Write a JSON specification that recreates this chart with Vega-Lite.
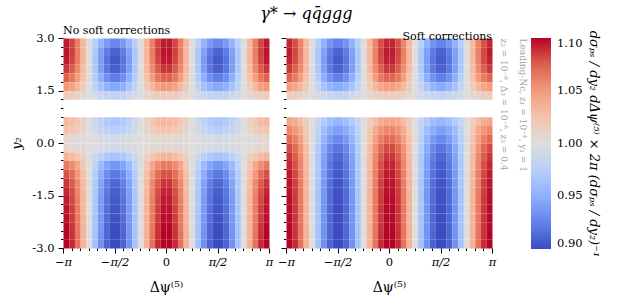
{"$schema":"https://vega.github.io/schema/vega-lite/v6.json","background":"white","padding":{"left":10,"top":6,"right":5,"bottom":5},"autosize":{"type":"pad"},"title":{"text":"γ* → qq̄ggg","font":"DejaVu Serif","fontSize":16,"fontStyle":"italic","fontWeight":"normal","anchor":"middle","dx":1,"offset":3,"color":"#000"},
"data":{"values":"p,x,y,v\na,-180,2.75,1.094\na,-170,2.75,1.082\na,-160,2.75,1.061\na,-150,2.75,1.032\na,-140,2.75,1\na,-130,2.75,0.975\na,-120,2.75,0.954\na,-110,2.75,0.938\na,-100,2.75,0.929\na,-90,2.75,0.929\na,-80,2.75,0.938\na,-70,2.75,0.954\na,-60,2.75,0.975\na,-50,2.75,1\na,-40,2.75,1.032\na,-30,2.75,1.061\na,-20,2.75,1.082\na,-10,2.75,1.094\na,0,2.75,1.094\na,10,2.75,1.082\na,20,2.75,1.061\na,30,2.75,1.032\na,40,2.75,1\na,50,2.75,0.975\na,60,2.75,0.954\na,70,2.75,0.938\na,80,2.75,0.929\na,90,2.75,0.929\na,100,2.75,0.938\na,110,2.75,0.954\na,120,2.75,0.975\na,130,2.75,1\na,140,2.75,1.032\na,150,2.75,1.061\na,160,2.75,1.082\na,170,2.75,1.094\na,-180,2.5,1.096\na,-170,2.5,1.084\na,-160,2.5,1.062\na,-150,2.5,1.033\na,-140,2.5,1\na,-130,2.5,0.969\na,-120,2.5,0.942\na,-110,2.5,0.922\na,-100,2.5,0.911\na,-90,2.5,0.911\na,-80,2.5,0.922\na,-70,2.5,0.942\na,-60,2.5,0.969\na,-50,2.5,1\na,-40,2.5,1.033\na,-30,2.5,1.062\na,-20,2.5,1.084\na,-10,2.5,1.096\na,0,2.5,1.096\na,10,2.5,1.084\na,20,2.5,1.062\na,30,2.5,1.033\na,40,2.5,1\na,50,2.5,0.969\na,60,2.5,0.942\na,70,2.5,0.922\na,80,2.5,0.911\na,90,2.5,0.911\na,100,2.5,0.922\na,110,2.5,0.942\na,120,2.5,0.969\na,130,2.5,1\na,140,2.5,1.033\na,150,2.5,1.062\na,160,2.5,1.084\na,170,2.5,1.096\na,-180,2.25,1.094\na,-170,2.25,1.082\na,-160,2.25,1.061\na,-150,2.25,1.032\na,-140,2.25,1\na,-130,2.25,0.968\na,-120,2.25,0.939\na,-110,2.25,0.918\na,-100,2.25,0.906\na,-90,2.25,0.906\na,-80,2.25,0.918\na,-70,2.25,0.939\na,-60,2.25,0.968\na,-50,2.25,1\na,-40,2.25,1.032\na,-30,2.25,1.061\na,-20,2.25,1.082\na,-10,2.25,1.094\na,0,2.25,1.094\na,10,2.25,1.082\na,20,2.25,1.061\na,30,2.25,1.032\na,40,2.25,1\na,50,2.25,0.968\na,60,2.25,0.939\na,70,2.25,0.918\na,80,2.25,0.906\na,90,2.25,0.906\na,100,2.25,0.918\na,110,2.25,0.939\na,120,2.25,0.968\na,130,2.25,1\na,140,2.25,1.032\na,150,2.25,1.061\na,160,2.25,1.082\na,170,2.25,1.094\na,-180,2,1.087\na,-170,2,1.076\na,-160,2,1.057\na,-150,2,1.030\na,-140,2,1\na,-130,2,0.969\na,-120,2,0.941\na,-110,2,0.920\na,-100,2,0.909\na,-90,2,0.909\na,-80,2,0.920\na,-70,2,0.941\na,-60,2,0.969\na,-50,2,1\na,-40,2,1.030\na,-30,2,1.057\na,-20,2,1.076\na,-10,2,1.087\na,0,2,1.087\na,10,2,1.076\na,20,2,1.057\na,30,2,1.030\na,40,2,1\na,50,2,0.969\na,60,2,0.941\na,70,2,0.920\na,80,2,0.909\na,90,2,0.909\na,100,2,0.920\na,110,2,0.941\na,120,2,0.969\na,130,2,1\na,140,2,1.030\na,150,2,1.057\na,160,2,1.076\na,170,2,1.087\na,-180,1.75,1.074\na,-170,1.75,1.065\na,-160,1.75,1.048\na,-150,1.75,1.026\na,-140,1.75,1\na,-130,1.75,0.973\na,-120,1.75,0.950\na,-110,1.75,0.932\na,-100,1.75,0.923\na,-90,1.75,0.923\na,-80,1.75,0.932\na,-70,1.75,0.950\na,-60,1.75,0.973\na,-50,1.75,1\na,-40,1.75,1.026\na,-30,1.75,1.048\na,-20,1.75,1.065\na,-10,1.75,1.074\na,0,1.75,1.074\na,10,1.75,1.065\na,20,1.75,1.048\na,30,1.75,1.026\na,40,1.75,1\na,50,1.75,0.973\na,60,1.75,0.950\na,70,1.75,0.932\na,80,1.75,0.923\na,90,1.75,0.923\na,100,1.75,0.932\na,110,1.75,0.950\na,120,1.75,0.973\na,130,1.75,1\na,140,1.75,1.026\na,150,1.75,1.048\na,160,1.75,1.065\na,170,1.75,1.074\na,-180,1.5,1.051\na,-170,1.5,1.045\na,-160,1.5,1.033\na,-150,1.5,1.018\na,-140,1.5,1\na,-130,1.5,0.981\na,-120,1.5,0.965\na,-110,1.5,0.952\na,-100,1.5,0.946\na,-90,1.5,0.946\na,-80,1.5,0.952\na,-70,1.5,0.965\na,-60,1.5,0.981\na,-50,1.5,1\na,-40,1.5,1.018\na,-30,1.5,1.033\na,-20,1.5,1.045\na,-10,1.5,1.051\na,0,1.5,1.051\na,10,1.5,1.045\na,20,1.5,1.033\na,30,1.5,1.018\na,40,1.5,1\na,50,1.5,0.981\na,60,1.5,0.965\na,70,1.5,0.952\na,80,1.5,0.946\na,90,1.5,0.946\na,100,1.5,0.952\na,110,1.5,0.965\na,120,1.5,0.981\na,130,1.5,1\na,140,1.5,1.018\na,150,1.5,1.033\na,160,1.5,1.045\na,170,1.5,1.051\na,-180,1.25,1.018\na,-170,1.25,1.016\na,-160,1.25,1.012\na,-150,1.25,1.006\na,-140,1.25,1\na,-130,1.25,0.993\na,-120,1.25,0.987\na,-110,1.25,0.983\na,-100,1.25,0.980\na,-90,1.25,0.980\na,-80,1.25,0.983\na,-70,1.25,0.987\na,-60,1.25,0.993\na,-50,1.25,1\na,-40,1.25,1.006\na,-30,1.25,1.012\na,-20,1.25,1.016\na,-10,1.25,1.018\na,0,1.25,1.018\na,10,1.25,1.016\na,20,1.25,1.012\na,30,1.25,1.006\na,40,1.25,1\na,50,1.25,0.993\na,60,1.25,0.987\na,70,1.25,0.983\na,80,1.25,0.980\na,90,1.25,0.980\na,100,1.25,0.983\na,110,1.25,0.987\na,120,1.25,0.993\na,130,1.25,1\na,140,1.25,1.006\na,150,1.25,1.012\na,160,1.25,1.016\na,170,1.25,1.018\na,-180,0.5,1.033\na,-170,0.5,1.029\na,-160,0.5,1.021\na,-150,0.5,1.011\na,-140,0.5,1\na,-130,0.5,0.989\na,-120,0.5,0.979\na,-110,0.5,0.971\na,-100,0.5,0.967\na,-90,0.5,0.967\na,-80,0.5,0.971\na,-70,0.5,0.979\na,-60,0.5,0.989\na,-50,0.5,1\na,-40,0.5,1.011\na,-30,0.5,1.021\na,-20,0.5,1.029\na,-10,0.5,1.033\na,0,0.5,1.033\na,10,0.5,1.029\na,20,0.5,1.021\na,30,0.5,1.011\na,40,0.5,1\na,50,0.5,0.989\na,60,0.5,0.979\na,70,0.5,0.971\na,80,0.5,0.967\na,90,0.5,0.967\na,100,0.5,0.971\na,110,0.5,0.979\na,120,0.5,0.989\na,130,0.5,1\na,140,0.5,1.011\na,150,0.5,1.021\na,160,0.5,1.029\na,170,0.5,1.033\na,-180,0.25,1.025\na,-170,0.25,1.022\na,-160,0.25,1.016\na,-150,0.25,1.009\na,-140,0.25,1\na,-130,0.25,0.991\na,-120,0.25,0.984\na,-110,0.25,0.978\na,-100,0.25,0.975\na,-90,0.25,0.975\na,-80,0.25,0.978\na,-70,0.25,0.984\na,-60,0.25,0.991\na,-50,0.25,1\na,-40,0.25,1.009\na,-30,0.25,1.016\na,-20,0.25,1.022\na,-10,0.25,1.025\na,0,0.25,1.025\na,10,0.25,1.022\na,20,0.25,1.016\na,30,0.25,1.009\na,40,0.25,1\na,50,0.25,0.991\na,60,0.25,0.984\na,70,0.25,0.978\na,80,0.25,0.975\na,90,0.25,0.975\na,100,0.25,0.978\na,110,0.25,0.984\na,120,0.25,0.991\na,130,0.25,1\na,140,0.25,1.009\na,150,0.25,1.016\na,160,0.25,1.022\na,170,0.25,1.025\na,-180,0,1.006\na,-170,0,1.005\na,-160,0,1.004\na,-150,0,1.002\na,-140,0,1\na,-130,0,0.998\na,-120,0,0.996\na,-110,0,0.995\na,-100,0,0.994\na,-90,0,0.994\na,-80,0,0.995\na,-70,0,0.996\na,-60,0,0.998\na,-50,0,1\na,-40,0,1.002\na,-30,0,1.004\na,-20,0,1.005\na,-10,0,1.006\na,0,0,1.006\na,10,0,1.005\na,20,0,1.004\na,30,0,1.002\na,40,0,1\na,50,0,0.998\na,60,0,0.996\na,70,0,0.995\na,80,0,0.994\na,90,0,0.994\na,100,0,0.995\na,110,0,0.996\na,120,0,0.998\na,130,0,1\na,140,0,1.002\na,150,0,1.004\na,160,0,1.005\na,170,0,1.006\na,-180,-0.25,1.008\na,-170,-0.25,1.007\na,-160,-0.25,1.005\na,-150,-0.25,1.003\na,-140,-0.25,1\na,-130,-0.25,0.997\na,-120,-0.25,0.995\na,-110,-0.25,0.993\na,-100,-0.25,0.992\na,-90,-0.25,0.992\na,-80,-0.25,0.993\na,-70,-0.25,0.995\na,-60,-0.25,0.997\na,-50,-0.25,1\na,-40,-0.25,1.003\na,-30,-0.25,1.005\na,-20,-0.25,1.007\na,-10,-0.25,1.008\na,0,-0.25,1.008\na,10,-0.25,1.007\na,20,-0.25,1.005\na,30,-0.25,1.003\na,40,-0.25,1\na,50,-0.25,0.997\na,60,-0.25,0.995\na,70,-0.25,0.993\na,80,-0.25,0.992\na,90,-0.25,0.992\na,100,-0.25,0.993\na,110,-0.25,0.995\na,120,-0.25,0.997\na,130,-0.25,1\na,140,-0.25,1.003\na,150,-0.25,1.005\na,160,-0.25,1.007\na,170,-0.25,1.008\na,-180,-0.5,1.034\na,-170,-0.5,1.030\na,-160,-0.5,1.023\na,-150,-0.5,1.012\na,-140,-0.5,1\na,-130,-0.5,0.988\na,-120,-0.5,0.977\na,-110,-0.5,0.970\na,-100,-0.5,0.966\na,-90,-0.5,0.966\na,-80,-0.5,0.970\na,-70,-0.5,0.977\na,-60,-0.5,0.988\na,-50,-0.5,1\na,-40,-0.5,1.012\na,-30,-0.5,1.023\na,-20,-0.5,1.030\na,-10,-0.5,1.034\na,0,-0.5,1.034\na,10,-0.5,1.030\na,20,-0.5,1.023\na,30,-0.5,1.012\na,40,-0.5,1\na,50,-0.5,0.988\na,60,-0.5,0.977\na,70,-0.5,0.970\na,80,-0.5,0.966\na,90,-0.5,0.966\na,100,-0.5,0.970\na,110,-0.5,0.977\na,120,-0.5,0.988\na,130,-0.5,1\na,140,-0.5,1.012\na,150,-0.5,1.023\na,160,-0.5,1.030\na,170,-0.5,1.034\na,-180,-0.75,1.064\na,-170,-0.75,1.056\na,-160,-0.75,1.042\na,-150,-0.75,1.022\na,-140,-0.75,1\na,-130,-0.75,0.978\na,-120,-0.75,0.958\na,-110,-0.75,0.944\na,-100,-0.75,0.936\na,-90,-0.75,0.936\na,-80,-0.75,0.944\na,-70,-0.75,0.958\na,-60,-0.75,0.978\na,-50,-0.75,1\na,-40,-0.75,1.022\na,-30,-0.75,1.042\na,-20,-0.75,1.056\na,-10,-0.75,1.064\na,0,-0.75,1.064\na,10,-0.75,1.056\na,20,-0.75,1.042\na,30,-0.75,1.022\na,40,-0.75,1\na,50,-0.75,0.978\na,60,-0.75,0.958\na,70,-0.75,0.944\na,80,-0.75,0.936\na,90,-0.75,0.936\na,100,-0.75,0.944\na,110,-0.75,0.958\na,120,-0.75,0.978\na,130,-0.75,1\na,140,-0.75,1.022\na,150,-0.75,1.042\na,160,-0.75,1.056\na,170,-0.75,1.064\na,-180,-1,1.079\na,-170,-1,1.069\na,-160,-1,1.051\na,-150,-1,1.027\na,-140,-1,1\na,-130,-1,0.973\na,-120,-1,0.949\na,-110,-1,0.931\na,-100,-1,0.921\na,-90,-1,0.921\na,-80,-1,0.931\na,-70,-1,0.949\na,-60,-1,0.973\na,-50,-1,1\na,-40,-1,1.027\na,-30,-1,1.051\na,-20,-1,1.069\na,-10,-1,1.079\na,0,-1,1.079\na,10,-1,1.069\na,20,-1,1.051\na,30,-1,1.027\na,40,-1,1\na,50,-1,0.973\na,60,-1,0.949\na,70,-1,0.931\na,80,-1,0.921\na,90,-1,0.921\na,100,-1,0.931\na,110,-1,0.949\na,120,-1,0.973\na,130,-1,1\na,140,-1,1.027\na,150,-1,1.051\na,160,-1,1.069\na,170,-1,1.079\na,-180,-1.25,1.087\na,-170,-1.25,1.076\na,-160,-1.25,1.057\na,-150,-1.25,1.030\na,-140,-1.25,1\na,-130,-1.25,0.970\na,-120,-1.25,0.943\na,-110,-1.25,0.924\na,-100,-1.25,0.913\na,-90,-1.25,0.913\na,-80,-1.25,0.924\na,-70,-1.25,0.943\na,-60,-1.25,0.970\na,-50,-1.25,1\na,-40,-1.25,1.030\na,-30,-1.25,1.057\na,-20,-1.25,1.076\na,-10,-1.25,1.087\na,0,-1.25,1.087\na,10,-1.25,1.076\na,20,-1.25,1.057\na,30,-1.25,1.030\na,40,-1.25,1\na,50,-1.25,0.970\na,60,-1.25,0.943\na,70,-1.25,0.924\na,80,-1.25,0.913\na,90,-1.25,0.913\na,100,-1.25,0.924\na,110,-1.25,0.943\na,120,-1.25,0.970\na,130,-1.25,1\na,140,-1.25,1.030\na,150,-1.25,1.057\na,160,-1.25,1.076\na,170,-1.25,1.087\na,-180,-1.5,1.091\na,-170,-1.5,1.080\na,-160,-1.5,1.059\na,-150,-1.5,1.031\na,-140,-1.5,1\na,-130,-1.5,0.969\na,-120,-1.5,0.941\na,-110,-1.5,0.920\na,-100,-1.5,0.909\na,-90,-1.5,0.909\na,-80,-1.5,0.920\na,-70,-1.5,0.941\na,-60,-1.5,0.969\na,-50,-1.5,1\na,-40,-1.5,1.031\na,-30,-1.5,1.059\na,-20,-1.5,1.080\na,-10,-1.5,1.091\na,0,-1.5,1.091\na,10,-1.5,1.080\na,20,-1.5,1.059\na,30,-1.5,1.031\na,40,-1.5,1\na,50,-1.5,0.969\na,60,-1.5,0.941\na,70,-1.5,0.920\na,80,-1.5,0.909\na,90,-1.5,0.909\na,100,-1.5,0.920\na,110,-1.5,0.941\na,120,-1.5,0.969\na,130,-1.5,1\na,140,-1.5,1.031\na,150,-1.5,1.059\na,160,-1.5,1.080\na,170,-1.5,1.091\na,-180,-1.75,1.094\na,-170,-1.75,1.082\na,-160,-1.75,1.061\na,-150,-1.75,1.032\na,-140,-1.75,1\na,-130,-1.75,0.968\na,-120,-1.75,0.939\na,-110,-1.75,0.918\na,-100,-1.75,0.906\na,-90,-1.75,0.906\na,-80,-1.75,0.918\na,-70,-1.75,0.939\na,-60,-1.75,0.968\na,-50,-1.75,1\na,-40,-1.75,1.032\na,-30,-1.75,1.061\na,-20,-1.75,1.082\na,-10,-1.75,1.094\na,0,-1.75,1.094\na,10,-1.75,1.082\na,20,-1.75,1.061\na,30,-1.75,1.032\na,40,-1.75,1\na,50,-1.75,0.968\na,60,-1.75,0.939\na,70,-1.75,0.918\na,80,-1.75,0.906\na,90,-1.75,0.906\na,100,-1.75,0.918\na,110,-1.75,0.939\na,120,-1.75,0.968\na,130,-1.75,1\na,140,-1.75,1.032\na,150,-1.75,1.061\na,160,-1.75,1.082\na,170,-1.75,1.094\na,-180,-2,1.096\na,-170,-2,1.084\na,-160,-2,1.062\na,-150,-2,1.033\na,-140,-2,1\na,-130,-2,0.967\na,-120,-2,0.938\na,-110,-2,0.916\na,-100,-2,0.904\na,-90,-2,0.904\na,-80,-2,0.916\na,-70,-2,0.938\na,-60,-2,0.967\na,-50,-2,1\na,-40,-2,1.033\na,-30,-2,1.062\na,-20,-2,1.084\na,-10,-2,1.096\na,0,-2,1.096\na,10,-2,1.084\na,20,-2,1.062\na,30,-2,1.033\na,40,-2,1\na,50,-2,0.967\na,60,-2,0.938\na,70,-2,0.916\na,80,-2,0.904\na,90,-2,0.904\na,100,-2,0.916\na,110,-2,0.938\na,120,-2,0.967\na,130,-2,1\na,140,-2,1.033\na,150,-2,1.062\na,160,-2,1.084\na,170,-2,1.096\na,-180,-2.25,1.097\na,-170,-2.25,1.085\na,-160,-2.25,1.063\na,-150,-2.25,1.034\na,-140,-2.25,1\na,-130,-2.25,0.966\na,-120,-2.25,0.937\na,-110,-2.25,0.915\na,-100,-2.25,0.903\na,-90,-2.25,0.903\na,-80,-2.25,0.915\na,-70,-2.25,0.937\na,-60,-2.25,0.966\na,-50,-2.25,1\na,-40,-2.25,1.034\na,-30,-2.25,1.063\na,-20,-2.25,1.085\na,-10,-2.25,1.097\na,0,-2.25,1.097\na,10,-2.25,1.085\na,20,-2.25,1.063\na,30,-2.25,1.034\na,40,-2.25,1\na,50,-2.25,0.966\na,60,-2.25,0.937\na,70,-2.25,0.915\na,80,-2.25,0.903\na,90,-2.25,0.903\na,100,-2.25,0.915\na,110,-2.25,0.937\na,120,-2.25,0.966\na,130,-2.25,1\na,140,-2.25,1.034\na,150,-2.25,1.063\na,160,-2.25,1.085\na,170,-2.25,1.097\na,-180,-2.5,1.099\na,-170,-2.5,1.087\na,-160,-2.5,1.064\na,-150,-2.5,1.034\na,-140,-2.5,1\na,-130,-2.5,0.966\na,-120,-2.5,0.936\na,-110,-2.5,0.913\na,-100,-2.5,0.901\na,-90,-2.5,0.901\na,-80,-2.5,0.913\na,-70,-2.5,0.936\na,-60,-2.5,0.966\na,-50,-2.5,1\na,-40,-2.5,1.034\na,-30,-2.5,1.064\na,-20,-2.5,1.087\na,-10,-2.5,1.099\na,0,-2.5,1.099\na,10,-2.5,1.087\na,20,-2.5,1.064\na,30,-2.5,1.034\na,40,-2.5,1\na,50,-2.5,0.966\na,60,-2.5,0.936\na,70,-2.5,0.913\na,80,-2.5,0.901\na,90,-2.5,0.901\na,100,-2.5,0.913\na,110,-2.5,0.936\na,120,-2.5,0.966\na,130,-2.5,1\na,140,-2.5,1.034\na,150,-2.5,1.064\na,160,-2.5,1.087\na,170,-2.5,1.099\na,-180,-2.75,1.100\na,-170,-2.75,1.088\na,-160,-2.75,1.066\na,-150,-2.75,1.035\na,-140,-2.75,1\na,-130,-2.75,0.965\na,-120,-2.75,0.934\na,-110,-2.75,0.912\na,-100,-2.75,0.900\na,-90,-2.75,0.900\na,-80,-2.75,0.912\na,-70,-2.75,0.934\na,-60,-2.75,0.965\na,-50,-2.75,1\na,-40,-2.75,1.035\na,-30,-2.75,1.066\na,-20,-2.75,1.088\na,-10,-2.75,1.100\na,0,-2.75,1.100\na,10,-2.75,1.088\na,20,-2.75,1.066\na,30,-2.75,1.035\na,40,-2.75,1\na,50,-2.75,0.965\na,60,-2.75,0.934\na,70,-2.75,0.912\na,80,-2.75,0.900\na,90,-2.75,0.900\na,100,-2.75,0.912\na,110,-2.75,0.934\na,120,-2.75,0.965\na,130,-2.75,1\na,140,-2.75,1.035\na,150,-2.75,1.066\na,160,-2.75,1.088\na,170,-2.75,1.100\na,-180,-3,1.102\na,-170,-3,1.090\na,-160,-3,1.067\na,-150,-3,1.036\na,-140,-3,1\na,-130,-3,0.964\na,-120,-3,0.933\na,-110,-3,0.910\na,-100,-3,0.898\na,-90,-3,0.898\na,-80,-3,0.910\na,-70,-3,0.933\na,-60,-3,0.964\na,-50,-3,1\na,-40,-3,1.036\na,-30,-3,1.067\na,-20,-3,1.090\na,-10,-3,1.102\na,0,-3,1.102\na,10,-3,1.090\na,20,-3,1.067\na,30,-3,1.036\na,40,-3,1\na,50,-3,0.964\na,60,-3,0.933\na,70,-3,0.910\na,80,-3,0.898\na,90,-3,0.898\na,100,-3,0.910\na,110,-3,0.933\na,120,-3,0.964\na,130,-3,1\na,140,-3,1.036\na,150,-3,1.067\na,160,-3,1.090\na,170,-3,1.102\nb,-180,2.75,1.091\nb,-170,2.75,1.080\nb,-160,2.75,1.059\nb,-150,2.75,1.031\nb,-140,2.75,1\nb,-130,2.75,0.974\nb,-120,2.75,0.952\nb,-110,2.75,0.935\nb,-100,2.75,0.926\nb,-90,2.75,0.926\nb,-80,2.75,0.935\nb,-70,2.75,0.952\nb,-60,2.75,0.974\nb,-50,2.75,1\nb,-40,2.75,1.031\nb,-30,2.75,1.059\nb,-20,2.75,1.080\nb,-10,2.75,1.091\nb,0,2.75,1.091\nb,10,2.75,1.080\nb,20,2.75,1.059\nb,30,2.75,1.031\nb,40,2.75,1\nb,50,2.75,0.974\nb,60,2.75,0.952\nb,70,2.75,0.935\nb,80,2.75,0.926\nb,90,2.75,0.926\nb,100,2.75,0.935\nb,110,2.75,0.952\nb,120,2.75,0.974\nb,130,2.75,1\nb,140,2.75,1.031\nb,150,2.75,1.059\nb,160,2.75,1.080\nb,170,2.75,1.091\nb,-180,2.5,1.094\nb,-170,2.5,1.082\nb,-160,2.5,1.061\nb,-150,2.5,1.032\nb,-140,2.5,1\nb,-130,2.5,0.969\nb,-120,2.5,0.942\nb,-110,2.5,0.922\nb,-100,2.5,0.911\nb,-90,2.5,0.911\nb,-80,2.5,0.922\nb,-70,2.5,0.942\nb,-60,2.5,0.969\nb,-50,2.5,1\nb,-40,2.5,1.032\nb,-30,2.5,1.061\nb,-20,2.5,1.082\nb,-10,2.5,1.094\nb,0,2.5,1.094\nb,10,2.5,1.082\nb,20,2.5,1.061\nb,30,2.5,1.032\nb,40,2.5,1\nb,50,2.5,0.969\nb,60,2.5,0.942\nb,70,2.5,0.922\nb,80,2.5,0.911\nb,90,2.5,0.911\nb,100,2.5,0.922\nb,110,2.5,0.942\nb,120,2.5,0.969\nb,130,2.5,1\nb,140,2.5,1.032\nb,150,2.5,1.061\nb,160,2.5,1.082\nb,170,2.5,1.094\nb,-180,2.25,1.092\nb,-170,2.25,1.081\nb,-160,2.25,1.060\nb,-150,2.25,1.032\nb,-140,2.25,1\nb,-130,2.25,0.968\nb,-120,2.25,0.940\nb,-110,2.25,0.919\nb,-100,2.25,0.907\nb,-90,2.25,0.907\nb,-80,2.25,0.919\nb,-70,2.25,0.940\nb,-60,2.25,0.968\nb,-50,2.25,1\nb,-40,2.25,1.032\nb,-30,2.25,1.060\nb,-20,2.25,1.081\nb,-10,2.25,1.092\nb,0,2.25,1.092\nb,10,2.25,1.081\nb,20,2.25,1.060\nb,30,2.25,1.032\nb,40,2.25,1\nb,50,2.25,0.968\nb,60,2.25,0.940\nb,70,2.25,0.919\nb,80,2.25,0.907\nb,90,2.25,0.907\nb,100,2.25,0.919\nb,110,2.25,0.940\nb,120,2.25,0.968\nb,130,2.25,1\nb,140,2.25,1.032\nb,150,2.25,1.060\nb,160,2.25,1.081\nb,170,2.25,1.092\nb,-180,2,1.086\nb,-170,2,1.075\nb,-160,2,1.056\nb,-150,2,1.030\nb,-140,2,1\nb,-130,2,0.969\nb,-120,2,0.941\nb,-110,2,0.921\nb,-100,2,0.910\nb,-90,2,0.910\nb,-80,2,0.921\nb,-70,2,0.941\nb,-60,2,0.969\nb,-50,2,1\nb,-40,2,1.030\nb,-30,2,1.056\nb,-20,2,1.075\nb,-10,2,1.086\nb,0,2,1.086\nb,10,2,1.075\nb,20,2,1.056\nb,30,2,1.030\nb,40,2,1\nb,50,2,0.969\nb,60,2,0.941\nb,70,2,0.921\nb,80,2,0.910\nb,90,2,0.910\nb,100,2,0.921\nb,110,2,0.941\nb,120,2,0.969\nb,130,2,1\nb,140,2,1.030\nb,150,2,1.056\nb,160,2,1.075\nb,170,2,1.086\nb,-180,1.75,1.073\nb,-170,1.75,1.064\nb,-160,1.75,1.048\nb,-150,1.75,1.025\nb,-140,1.75,1\nb,-130,1.75,0.974\nb,-120,1.75,0.950\nb,-110,1.75,0.933\nb,-100,1.75,0.924\nb,-90,1.75,0.924\nb,-80,1.75,0.933\nb,-70,1.75,0.950\nb,-60,1.75,0.974\nb,-50,1.75,1\nb,-40,1.75,1.025\nb,-30,1.75,1.048\nb,-20,1.75,1.064\nb,-10,1.75,1.073\nb,0,1.75,1.073\nb,10,1.75,1.064\nb,20,1.75,1.048\nb,30,1.75,1.025\nb,40,1.75,1\nb,50,1.75,0.974\nb,60,1.75,0.950\nb,70,1.75,0.933\nb,80,1.75,0.924\nb,90,1.75,0.924\nb,100,1.75,0.933\nb,110,1.75,0.950\nb,120,1.75,0.974\nb,130,1.75,1\nb,140,1.75,1.025\nb,150,1.75,1.048\nb,160,1.75,1.064\nb,170,1.75,1.073\nb,-180,1.5,1.049\nb,-170,1.5,1.043\nb,-160,1.5,1.032\nb,-150,1.5,1.017\nb,-140,1.5,1\nb,-130,1.5,0.982\nb,-120,1.5,0.966\nb,-110,1.5,0.954\nb,-100,1.5,0.948\nb,-90,1.5,0.948\nb,-80,1.5,0.954\nb,-70,1.5,0.966\nb,-60,1.5,0.982\nb,-50,1.5,1\nb,-40,1.5,1.017\nb,-30,1.5,1.032\nb,-20,1.5,1.043\nb,-10,1.5,1.049\nb,0,1.5,1.049\nb,10,1.5,1.043\nb,20,1.5,1.032\nb,30,1.5,1.017\nb,40,1.5,1\nb,50,1.5,0.982\nb,60,1.5,0.966\nb,70,1.5,0.954\nb,80,1.5,0.948\nb,90,1.5,0.948\nb,100,1.5,0.954\nb,110,1.5,0.966\nb,120,1.5,0.982\nb,130,1.5,1\nb,140,1.5,1.017\nb,150,1.5,1.032\nb,160,1.5,1.043\nb,170,1.5,1.049\nb,-180,1.25,1.017\nb,-170,1.25,1.015\nb,-160,1.25,1.011\nb,-150,1.25,1.006\nb,-140,1.25,1\nb,-130,1.25,0.994\nb,-120,1.25,0.988\nb,-110,1.25,0.984\nb,-100,1.25,0.981\nb,-90,1.25,0.981\nb,-80,1.25,0.984\nb,-70,1.25,0.988\nb,-60,1.25,0.994\nb,-50,1.25,1\nb,-40,1.25,1.006\nb,-30,1.25,1.011\nb,-20,1.25,1.015\nb,-10,1.25,1.017\nb,0,1.25,1.017\nb,10,1.25,1.015\nb,20,1.25,1.011\nb,30,1.25,1.006\nb,40,1.25,1\nb,50,1.25,0.994\nb,60,1.25,0.988\nb,70,1.25,0.984\nb,80,1.25,0.981\nb,90,1.25,0.981\nb,100,1.25,0.984\nb,110,1.25,0.988\nb,120,1.25,0.994\nb,130,1.25,1\nb,140,1.25,1.006\nb,150,1.25,1.011\nb,160,1.25,1.015\nb,170,1.25,1.017\nb,-180,0.5,1.044\nb,-170,0.5,1.039\nb,-160,0.5,1.029\nb,-150,0.5,1.015\nb,-140,0.5,1\nb,-130,0.5,0.985\nb,-120,0.5,0.971\nb,-110,0.5,0.961\nb,-100,0.5,0.956\nb,-90,0.5,0.956\nb,-80,0.5,0.961\nb,-70,0.5,0.971\nb,-60,0.5,0.985\nb,-50,0.5,1\nb,-40,0.5,1.015\nb,-30,0.5,1.029\nb,-20,0.5,1.039\nb,-10,0.5,1.044\nb,0,0.5,1.044\nb,10,0.5,1.039\nb,20,0.5,1.029\nb,30,0.5,1.015\nb,40,0.5,1\nb,50,0.5,0.985\nb,60,0.5,0.971\nb,70,0.5,0.961\nb,80,0.5,0.956\nb,90,0.5,0.956\nb,100,0.5,0.961\nb,110,0.5,0.971\nb,120,0.5,0.985\nb,130,0.5,1\nb,140,0.5,1.015\nb,150,0.5,1.029\nb,160,0.5,1.039\nb,170,0.5,1.044\nb,-180,0.25,1.059\nb,-170,0.25,1.052\nb,-160,0.25,1.039\nb,-150,0.25,1.021\nb,-140,0.25,1\nb,-130,0.25,0.979\nb,-120,0.25,0.961\nb,-110,0.25,0.948\nb,-100,0.25,0.941\nb,-90,0.25,0.941\nb,-80,0.25,0.948\nb,-70,0.25,0.961\nb,-60,0.25,0.979\nb,-50,0.25,1\nb,-40,0.25,1.021\nb,-30,0.25,1.039\nb,-20,0.25,1.052\nb,-10,0.25,1.059\nb,0,0.25,1.059\nb,10,0.25,1.052\nb,20,0.25,1.039\nb,30,0.25,1.021\nb,40,0.25,1\nb,50,0.25,0.979\nb,60,0.25,0.961\nb,70,0.25,0.948\nb,80,0.25,0.941\nb,90,0.25,0.941\nb,100,0.25,0.948\nb,110,0.25,0.961\nb,120,0.25,0.979\nb,130,0.25,1\nb,140,0.25,1.021\nb,150,0.25,1.039\nb,160,0.25,1.052\nb,170,0.25,1.059\nb,-180,0,1.071\nb,-170,0,1.062\nb,-160,0,1.046\nb,-150,0,1.025\nb,-140,0,1\nb,-130,0,0.975\nb,-120,0,0.954\nb,-110,0,0.938\nb,-100,0,0.929\nb,-90,0,0.929\nb,-80,0,0.938\nb,-70,0,0.954\nb,-60,0,0.975\nb,-50,0,1\nb,-40,0,1.025\nb,-30,0,1.046\nb,-20,0,1.062\nb,-10,0,1.071\nb,0,0,1.071\nb,10,0,1.062\nb,20,0,1.046\nb,30,0,1.025\nb,40,0,1\nb,50,0,0.975\nb,60,0,0.954\nb,70,0,0.938\nb,80,0,0.929\nb,90,0,0.929\nb,100,0,0.938\nb,110,0,0.954\nb,120,0,0.975\nb,130,0,1\nb,140,0,1.025\nb,150,0,1.046\nb,160,0,1.062\nb,170,0,1.071\nb,-180,-0.25,1.081\nb,-170,-0.25,1.071\nb,-160,-0.25,1.053\nb,-150,-0.25,1.028\nb,-140,-0.25,1\nb,-130,-0.25,0.972\nb,-120,-0.25,0.947\nb,-110,-0.25,0.929\nb,-100,-0.25,0.919\nb,-90,-0.25,0.919\nb,-80,-0.25,0.929\nb,-70,-0.25,0.947\nb,-60,-0.25,0.972\nb,-50,-0.25,1\nb,-40,-0.25,1.028\nb,-30,-0.25,1.053\nb,-20,-0.25,1.071\nb,-10,-0.25,1.081\nb,0,-0.25,1.081\nb,10,-0.25,1.071\nb,20,-0.25,1.053\nb,30,-0.25,1.028\nb,40,-0.25,1\nb,50,-0.25,0.972\nb,60,-0.25,0.947\nb,70,-0.25,0.929\nb,80,-0.25,0.919\nb,90,-0.25,0.919\nb,100,-0.25,0.929\nb,110,-0.25,0.947\nb,120,-0.25,0.972\nb,130,-0.25,1\nb,140,-0.25,1.028\nb,150,-0.25,1.053\nb,160,-0.25,1.071\nb,170,-0.25,1.081\nb,-180,-0.5,1.087\nb,-170,-0.5,1.076\nb,-160,-0.5,1.057\nb,-150,-0.5,1.030\nb,-140,-0.5,1\nb,-130,-0.5,0.970\nb,-120,-0.5,0.943\nb,-110,-0.5,0.924\nb,-100,-0.5,0.913\nb,-90,-0.5,0.913\nb,-80,-0.5,0.924\nb,-70,-0.5,0.943\nb,-60,-0.5,0.970\nb,-50,-0.5,1\nb,-40,-0.5,1.030\nb,-30,-0.5,1.057\nb,-20,-0.5,1.076\nb,-10,-0.5,1.087\nb,0,-0.5,1.087\nb,10,-0.5,1.076\nb,20,-0.5,1.057\nb,30,-0.5,1.030\nb,40,-0.5,1\nb,50,-0.5,0.970\nb,60,-0.5,0.943\nb,70,-0.5,0.924\nb,80,-0.5,0.913\nb,90,-0.5,0.913\nb,100,-0.5,0.924\nb,110,-0.5,0.943\nb,120,-0.5,0.970\nb,130,-0.5,1\nb,140,-0.5,1.030\nb,150,-0.5,1.057\nb,160,-0.5,1.076\nb,170,-0.5,1.087\nb,-180,-0.75,1.091\nb,-170,-0.75,1.080\nb,-160,-0.75,1.059\nb,-150,-0.75,1.031\nb,-140,-0.75,1\nb,-130,-0.75,0.969\nb,-120,-0.75,0.941\nb,-110,-0.75,0.920\nb,-100,-0.75,0.909\nb,-90,-0.75,0.909\nb,-80,-0.75,0.920\nb,-70,-0.75,0.941\nb,-60,-0.75,0.969\nb,-50,-0.75,1\nb,-40,-0.75,1.031\nb,-30,-0.75,1.059\nb,-20,-0.75,1.080\nb,-10,-0.75,1.091\nb,0,-0.75,1.091\nb,10,-0.75,1.080\nb,20,-0.75,1.059\nb,30,-0.75,1.031\nb,40,-0.75,1\nb,50,-0.75,0.969\nb,60,-0.75,0.941\nb,70,-0.75,0.920\nb,80,-0.75,0.909\nb,90,-0.75,0.909\nb,100,-0.75,0.920\nb,110,-0.75,0.941\nb,120,-0.75,0.969\nb,130,-0.75,1\nb,140,-0.75,1.031\nb,150,-0.75,1.059\nb,160,-0.75,1.080\nb,170,-0.75,1.091\nb,-180,-1,1.094\nb,-170,-1,1.082\nb,-160,-1,1.061\nb,-150,-1,1.032\nb,-140,-1,1\nb,-130,-1,0.968\nb,-120,-1,0.939\nb,-110,-1,0.918\nb,-100,-1,0.906\nb,-90,-1,0.906\nb,-80,-1,0.918\nb,-70,-1,0.939\nb,-60,-1,0.968\nb,-50,-1,1\nb,-40,-1,1.032\nb,-30,-1,1.061\nb,-20,-1,1.082\nb,-10,-1,1.094\nb,0,-1,1.094\nb,10,-1,1.082\nb,20,-1,1.061\nb,30,-1,1.032\nb,40,-1,1\nb,50,-1,0.968\nb,60,-1,0.939\nb,70,-1,0.918\nb,80,-1,0.906\nb,90,-1,0.906\nb,100,-1,0.918\nb,110,-1,0.939\nb,120,-1,0.968\nb,130,-1,1\nb,140,-1,1.032\nb,150,-1,1.061\nb,160,-1,1.082\nb,170,-1,1.094\nb,-180,-1.25,1.096\nb,-170,-1.25,1.084\nb,-160,-1.25,1.062\nb,-150,-1.25,1.033\nb,-140,-1.25,1\nb,-130,-1.25,0.967\nb,-120,-1.25,0.938\nb,-110,-1.25,0.916\nb,-100,-1.25,0.904\nb,-90,-1.25,0.904\nb,-80,-1.25,0.916\nb,-70,-1.25,0.938\nb,-60,-1.25,0.967\nb,-50,-1.25,1\nb,-40,-1.25,1.033\nb,-30,-1.25,1.062\nb,-20,-1.25,1.084\nb,-10,-1.25,1.096\nb,0,-1.25,1.096\nb,10,-1.25,1.084\nb,20,-1.25,1.062\nb,30,-1.25,1.033\nb,40,-1.25,1\nb,50,-1.25,0.967\nb,60,-1.25,0.938\nb,70,-1.25,0.916\nb,80,-1.25,0.904\nb,90,-1.25,0.904\nb,100,-1.25,0.916\nb,110,-1.25,0.938\nb,120,-1.25,0.967\nb,130,-1.25,1\nb,140,-1.25,1.033\nb,150,-1.25,1.062\nb,160,-1.25,1.084\nb,170,-1.25,1.096\nb,-180,-1.5,1.097\nb,-170,-1.5,1.085\nb,-160,-1.5,1.063\nb,-150,-1.5,1.034\nb,-140,-1.5,1\nb,-130,-1.5,0.966\nb,-120,-1.5,0.937\nb,-110,-1.5,0.915\nb,-100,-1.5,0.903\nb,-90,-1.5,0.903\nb,-80,-1.5,0.915\nb,-70,-1.5,0.937\nb,-60,-1.5,0.966\nb,-50,-1.5,1\nb,-40,-1.5,1.034\nb,-30,-1.5,1.063\nb,-20,-1.5,1.085\nb,-10,-1.5,1.097\nb,0,-1.5,1.097\nb,10,-1.5,1.085\nb,20,-1.5,1.063\nb,30,-1.5,1.034\nb,40,-1.5,1\nb,50,-1.5,0.966\nb,60,-1.5,0.937\nb,70,-1.5,0.915\nb,80,-1.5,0.903\nb,90,-1.5,0.903\nb,100,-1.5,0.915\nb,110,-1.5,0.937\nb,120,-1.5,0.966\nb,130,-1.5,1\nb,140,-1.5,1.034\nb,150,-1.5,1.063\nb,160,-1.5,1.085\nb,170,-1.5,1.097\nb,-180,-1.75,1.098\nb,-170,-1.75,1.086\nb,-160,-1.75,1.064\nb,-150,-1.75,1.034\nb,-140,-1.75,1\nb,-130,-1.75,0.966\nb,-120,-1.75,0.936\nb,-110,-1.75,0.914\nb,-100,-1.75,0.902\nb,-90,-1.75,0.902\nb,-80,-1.75,0.914\nb,-70,-1.75,0.936\nb,-60,-1.75,0.966\nb,-50,-1.75,1\nb,-40,-1.75,1.034\nb,-30,-1.75,1.064\nb,-20,-1.75,1.086\nb,-10,-1.75,1.098\nb,0,-1.75,1.098\nb,10,-1.75,1.086\nb,20,-1.75,1.064\nb,30,-1.75,1.034\nb,40,-1.75,1\nb,50,-1.75,0.966\nb,60,-1.75,0.936\nb,70,-1.75,0.914\nb,80,-1.75,0.902\nb,90,-1.75,0.902\nb,100,-1.75,0.914\nb,110,-1.75,0.936\nb,120,-1.75,0.966\nb,130,-1.75,1\nb,140,-1.75,1.034\nb,150,-1.75,1.064\nb,160,-1.75,1.086\nb,170,-1.75,1.098\nb,-180,-2,1.099\nb,-170,-2,1.087\nb,-160,-2,1.064\nb,-150,-2,1.034\nb,-140,-2,1\nb,-130,-2,0.966\nb,-120,-2,0.936\nb,-110,-2,0.913\nb,-100,-2,0.901\nb,-90,-2,0.901\nb,-80,-2,0.913\nb,-70,-2,0.936\nb,-60,-2,0.966\nb,-50,-2,1\nb,-40,-2,1.034\nb,-30,-2,1.064\nb,-20,-2,1.087\nb,-10,-2,1.099\nb,0,-2,1.099\nb,10,-2,1.087\nb,20,-2,1.064\nb,30,-2,1.034\nb,40,-2,1\nb,50,-2,0.966\nb,60,-2,0.936\nb,70,-2,0.913\nb,80,-2,0.901\nb,90,-2,0.901\nb,100,-2,0.913\nb,110,-2,0.936\nb,120,-2,0.966\nb,130,-2,1\nb,140,-2,1.034\nb,150,-2,1.064\nb,160,-2,1.087\nb,170,-2,1.099\nb,-180,-2.25,1.099\nb,-170,-2.25,1.087\nb,-160,-2.25,1.064\nb,-150,-2.25,1.034\nb,-140,-2.25,1\nb,-130,-2.25,0.966\nb,-120,-2.25,0.936\nb,-110,-2.25,0.913\nb,-100,-2.25,0.901\nb,-90,-2.25,0.901\nb,-80,-2.25,0.913\nb,-70,-2.25,0.936\nb,-60,-2.25,0.966\nb,-50,-2.25,1\nb,-40,-2.25,1.034\nb,-30,-2.25,1.064\nb,-20,-2.25,1.087\nb,-10,-2.25,1.099\nb,0,-2.25,1.099\nb,10,-2.25,1.087\nb,20,-2.25,1.064\nb,30,-2.25,1.034\nb,40,-2.25,1\nb,50,-2.25,0.966\nb,60,-2.25,0.936\nb,70,-2.25,0.913\nb,80,-2.25,0.901\nb,90,-2.25,0.901\nb,100,-2.25,0.913\nb,110,-2.25,0.936\nb,120,-2.25,0.966\nb,130,-2.25,1\nb,140,-2.25,1.034\nb,150,-2.25,1.064\nb,160,-2.25,1.087\nb,170,-2.25,1.099\nb,-180,-2.5,1.099\nb,-170,-2.5,1.087\nb,-160,-2.5,1.065\nb,-150,-2.5,1.035\nb,-140,-2.5,1\nb,-130,-2.5,0.965\nb,-120,-2.5,0.935\nb,-110,-2.5,0.913\nb,-100,-2.5,0.901\nb,-90,-2.5,0.901\nb,-80,-2.5,0.913\nb,-70,-2.5,0.935\nb,-60,-2.5,0.965\nb,-50,-2.5,1\nb,-40,-2.5,1.035\nb,-30,-2.5,1.065\nb,-20,-2.5,1.087\nb,-10,-2.5,1.099\nb,0,-2.5,1.099\nb,10,-2.5,1.087\nb,20,-2.5,1.065\nb,30,-2.5,1.035\nb,40,-2.5,1\nb,50,-2.5,0.965\nb,60,-2.5,0.935\nb,70,-2.5,0.913\nb,80,-2.5,0.901\nb,90,-2.5,0.901\nb,100,-2.5,0.913\nb,110,-2.5,0.935\nb,120,-2.5,0.965\nb,130,-2.5,1\nb,140,-2.5,1.035\nb,150,-2.5,1.065\nb,160,-2.5,1.087\nb,170,-2.5,1.099\nb,-180,-2.75,1.100\nb,-170,-2.75,1.088\nb,-160,-2.75,1.066\nb,-150,-2.75,1.035\nb,-140,-2.75,1\nb,-130,-2.75,0.965\nb,-120,-2.75,0.934\nb,-110,-2.75,0.912\nb,-100,-2.75,0.900\nb,-90,-2.75,0.900\nb,-80,-2.75,0.912\nb,-70,-2.75,0.934\nb,-60,-2.75,0.965\nb,-50,-2.75,1\nb,-40,-2.75,1.035\nb,-30,-2.75,1.066\nb,-20,-2.75,1.088\nb,-10,-2.75,1.100\nb,0,-2.75,1.100\nb,10,-2.75,1.088\nb,20,-2.75,1.066\nb,30,-2.75,1.035\nb,40,-2.75,1\nb,50,-2.75,0.965\nb,60,-2.75,0.934\nb,70,-2.75,0.912\nb,80,-2.75,0.900\nb,90,-2.75,0.900\nb,100,-2.75,0.912\nb,110,-2.75,0.934\nb,120,-2.75,0.965\nb,130,-2.75,1\nb,140,-2.75,1.035\nb,150,-2.75,1.066\nb,160,-2.75,1.088\nb,170,-2.75,1.100\nb,-180,-3,1.102\nb,-170,-3,1.090\nb,-160,-3,1.067\nb,-150,-3,1.036\nb,-140,-3,1\nb,-130,-3,0.964\nb,-120,-3,0.933\nb,-110,-3,0.910\nb,-100,-3,0.898\nb,-90,-3,0.898\nb,-80,-3,0.910\nb,-70,-3,0.933\nb,-60,-3,0.964\nb,-50,-3,1\nb,-40,-3,1.036\nb,-30,-3,1.067\nb,-20,-3,1.090\nb,-10,-3,1.102\nb,0,-3,1.102\nb,10,-3,1.090\nb,20,-3,1.067\nb,30,-3,1.036\nb,40,-3,1\nb,50,-3,0.964\nb,60,-3,0.933\nb,70,-3,0.910\nb,80,-3,0.898\nb,90,-3,0.898\nb,100,-3,0.910\nb,110,-3,0.933\nb,120,-3,0.964\nb,130,-3,1\nb,140,-3,1.036\nb,150,-3,1.067\nb,160,-3,1.090\nb,170,-3,1.102","format":{"type":"csv","parse":{"x":"number","y":"number","v":"number"}}},
"spacing":17,"bounds":"flush",
"hconcat":[
{"width":206,"height":210,
"title":{"text":"No soft corrections","anchor":"start","frame":"group","fontSize":11,"font":"DejaVu Serif","fontWeight":"normal","offset":-4,"color":"#000"},
"transform":[{"filter":"datum.p === 'a'"}],
"mark":{"type":"rect"},
"encoding":{
"x":{"field":"x","type":"quantitative","bin":{"binned":true,"step":10},"scale":{"domain":[-180,180],"nice":false,"zero":false},"title":"Δψ⁽⁵⁾","axis":{"values":[-180,-165,-150,-135,-120,-105,-90,-75,-60,-45,-30,-15,0,15,30,45,60,75,90,105,120,135,150,165,180],"labelExpr":"datum.value === -180 ? '−π' : datum.value === -90 ? '−π/2' : datum.value === 0 ? '0' : datum.value === 90 ? 'π/2' : datum.value === 180 ? 'π' : ''","tickSize":{"condition":{"test":"datum.value % 90 === 0","value":5},"value":2.5},"labelFontStyle":{"condition":{"test":"datum.value === 0","value":"normal"},"value":"italic"},"labelFlush":false,"labelOverlap":false,"labelPadding":3,"labelFontSize":11.5,"titleFontSize":14,"titlePadding":13}},
"y":{"field":"y","type":"quantitative","bin":{"binned":true,"step":0.25},"scale":{"domain":[-3,3],"nice":false,"zero":false},"title":"y₂","axis":{"values":[-3,-2.75,-2.5,-2.25,-2,-1.75,-1.5,-1.25,-1,-0.75,-0.5,-0.25,0,0.25,0.5,0.75,1,1.25,1.5,1.75,2,2.25,2.5,2.75,3],"labelExpr":"datum.value === 3 ? '3.0' : datum.value === 1.5 ? '1.5' : datum.value === 0 ? '0.0' : datum.value === -1.5 ? '-1.5' : datum.value === -3 ? '-3.0' : ''","tickSize":{"condition":{"test":"datum.value % 1.5 === 0","value":5},"value":2.5},"labelFlush":false,"labelOverlap":false,"labelPadding":4,"labelFontSize":11.5,"titleFontSize":13,"titleFontStyle":"italic","titlePadding":8}},
"color":{"field":"v","type":"quantitative","scale":{"domain":[0.9,0.925,0.95,0.975,1.0,1.025,1.05,1.075,1.1],"range":["#3b4cc0","#6282ea","#8db0fe","#b8d0f9","#dddddd","#f5c4ad","#f49a7b","#de604d","#b40426"],"clamp":true,"interpolate":"rgb"},"legend":{"title":"dσₚₛ / dy₂ dΔψ⁽⁵⁾ × 2π (dσₚₛ / dy₂)⁻¹","titleOrient":"right","orient":"right","offset":5,"direction":"vertical","gradientLength":211,"gradientThickness":20,"gradientStrokeWidth":0,"values":[0.9,0.95,1,1.05,1.1],"format":".2f","labelFontSize":11.5,"labelOffset":6,"labelOverlap":false,"titleFontSize":13,"titleFontStyle":"italic","titleFontWeight":"normal","titleLimit":400,"titleAnchor":"middle","titlePadding":4}}
}},
{"width":206,"height":210,
"title":{"text":"Soft corrections","anchor":"end","frame":"group","fontSize":11,"font":"DejaVu Serif","fontWeight":"normal","offset":-4,"color":"#000"},
"transform":[{"filter":"datum.p === 'b'"}],
"layer":[
{"mark":{"type":"rect"},
"encoding":{
"x":{"field":"x","type":"quantitative","bin":{"binned":true,"step":10},"scale":{"domain":[-180,180],"nice":false,"zero":false},"title":"Δψ⁽⁵⁾","axis":{"values":[-180,-165,-150,-135,-120,-105,-90,-75,-60,-45,-30,-15,0,15,30,45,60,75,90,105,120,135,150,165,180],"labelExpr":"datum.value === -180 ? '−π' : datum.value === -90 ? '−π/2' : datum.value === 0 ? '0' : datum.value === 90 ? 'π/2' : datum.value === 180 ? 'π' : ''","tickSize":{"condition":{"test":"datum.value % 90 === 0","value":5},"value":2.5},"labelFontStyle":{"condition":{"test":"datum.value === 0","value":"normal"},"value":"italic"},"labelFlush":false,"labelOverlap":false,"labelPadding":3,"labelFontSize":11.5,"titleFontSize":14,"titlePadding":13}},
"y":{"field":"y","type":"quantitative","bin":{"binned":true,"step":0.25},"scale":{"domain":[-3,3],"nice":false,"zero":false},"axis":{"title":null,"labels":false,"values":[-3,-2.75,-2.5,-2.25,-2,-1.75,-1.5,-1.25,-1,-0.75,-0.5,-0.25,0,0.25,0.5,0.75,1,1.25,1.5,1.75,2,2.25,2.5,2.75,3],"tickSize":{"condition":{"test":"datum.value % 1.5 === 0","value":5},"value":2.5}}},
"color":{"field":"v","type":"quantitative","scale":{"domain":[0.9,0.925,0.95,0.975,1.0,1.025,1.05,1.075,1.1],"range":["#3b4cc0","#6282ea","#8db0fe","#b8d0f9","#dddddd","#f5c4ad","#f49a7b","#de604d","#b40426"],"clamp":true,"interpolate":"rgb"}}
}},
{"mark":{"type":"point","opacity":0},
"encoding":{"y":{"field":"y","type":"quantitative","scale":{"domain":[-3,3],"nice":false,"zero":false},"axis":{"orient":"right","title":["Leading-Nᴄ, z₁ = 10⁻⁴, y₁ = 1","z₂ = 10⁻⁸, Δ₃ = 10⁻⁸, z₃ = 0.4"],"titleAngle":90,"titleAnchor":"end","titleAlign":"left","titleColor":"#a6a6a6","titleFontSize":9,"titleLineHeight":19,"titlePadding":6,"labels":false,"ticks":false,"domain":false,"grid":false}}}}
],
"resolve":{"scale":{"y":"independent"},"axis":{"y":"independent"}}
}
],
"resolve":{"scale":{"color":"shared"}},
"config":{"view":{"stroke":null},"font":"DejaVu Serif","axis":{"labelFont":"DejaVu Serif","titleFont":"DejaVu Serif","titleFontWeight":"normal","labelColor":"#000","titleColor":"#000","tickColor":"#000","grid":false,"domain":false},"legend":{"labelFont":"DejaVu Serif","titleFont":"DejaVu Serif","labelColor":"#000","titleColor":"#000"}}
}
